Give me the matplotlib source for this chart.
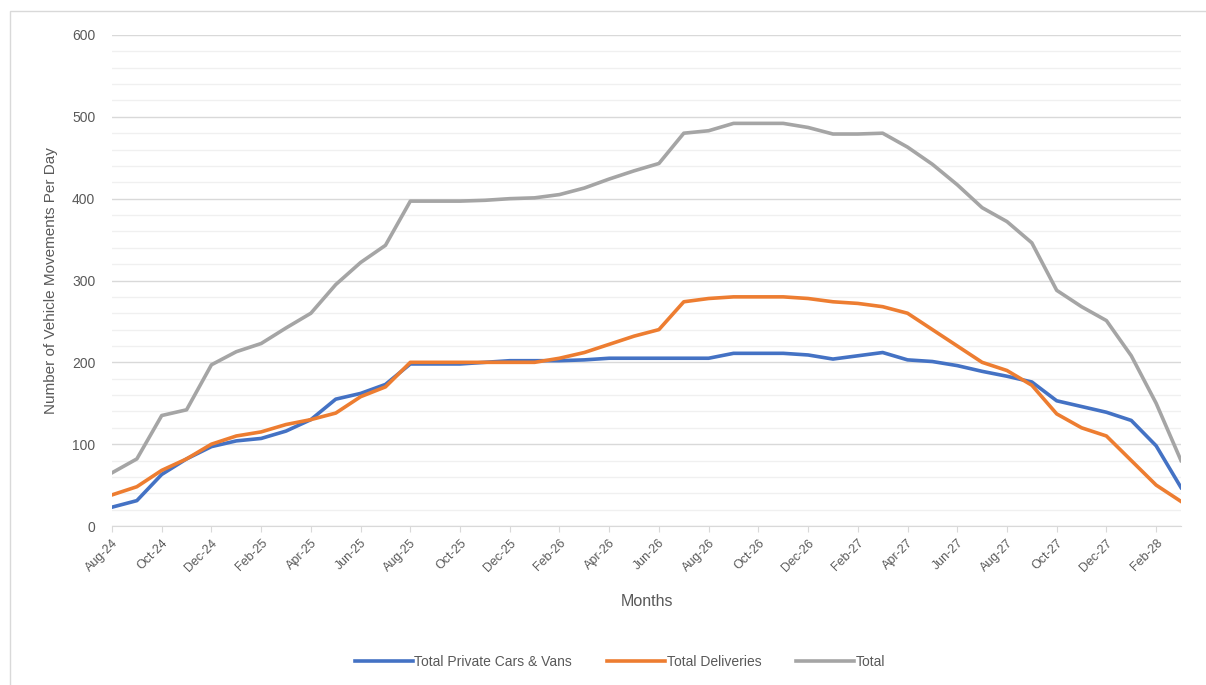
"""Vehicle movements per day, monthly profile (Excel-style line chart)."""

import matplotlib
matplotlib.use("Agg")
import matplotlib.pyplot as plt
from matplotlib.patches import Rectangle
from matplotlib.ticker import MultipleLocator

MONTHS = [
    "Aug-24", "Sep-24", "Oct-24", "Nov-24", "Dec-24",
    "Jan-25", "Feb-25", "Mar-25", "Apr-25", "May-25", "Jun-25", "Jul-25",
    "Aug-25", "Sep-25", "Oct-25", "Nov-25", "Dec-25",
    "Jan-26", "Feb-26", "Mar-26", "Apr-26", "May-26", "Jun-26", "Jul-26",
    "Aug-26", "Sep-26", "Oct-26", "Nov-26", "Dec-26",
    "Jan-27", "Feb-27", "Mar-27", "Apr-27", "May-27", "Jun-27", "Jul-27",
    "Aug-27", "Sep-27", "Oct-27", "Nov-27", "Dec-27",
    "Jan-28", "Feb-28", "Mar-28",
]

private_cars_vans = [
    23, 31, 63, 82, 97, 104, 107, 116, 130, 155, 162, 173,
    198, 198, 198, 200, 202, 202, 202, 203, 205, 205, 205, 205,
    205, 211, 211, 211, 209, 204, 208, 212, 203, 201, 196, 189,
    183, 176, 153, 146, 139, 129, 98, 47,
]

deliveries = [
    38, 48, 68, 82, 100, 110, 115, 124, 130, 138, 158, 170,
    200, 200, 200, 200, 200, 200, 205, 212, 222, 232, 240, 274,
    278, 280, 280, 280, 278, 274, 272, 268, 260, 240, 220, 200,
    190, 172, 137, 120, 110, 80, 50, 30,
]

total = [
    65, 82, 135, 142, 197, 213, 223, 242, 260, 295, 322, 343,
    397, 397, 397, 398, 400, 401, 405, 413, 424, 434, 443, 480,
    483, 492, 492, 492, 487, 479, 479, 480, 463, 442, 417, 389,
    372, 346, 288, 268, 251, 208, 150, 80,
]

SERIES = [
    ("Total Private Cars & Vans", private_cars_vans, "#4472C4"),
    ("Total Deliveries", deliveries, "#ED7D31"),
    ("Total", total, "#A5A5A5"),
]

TEXT_COLOR = "#595959"

plt.rcParams["font.family"] = ["Liberation Sans", "DejaVu Sans"]

fig = plt.figure(figsize=(12.06, 6.85), dpi=100)
ax = fig.add_axes([112 / 1206, 1 - 526 / 685, (1181 - 112) / 1206, (526 - 35) / 685])

# light chart-area border like the Excel frame
fig.patches.append(Rectangle((10 / 1206, -0.05), 1.2, 1 - 11 / 685 + 0.05,
                             transform=fig.transFigure, fill=False,
                             edgecolor="#d9d9d9", linewidth=1.0, zorder=0))

x = list(range(len(MONTHS)))
for name, values, color in SERIES:
    ax.plot(x, values, color=color, linewidth=2.6, label=name,
            solid_joinstyle="round", zorder=3)

ax.set_xlim(0, len(MONTHS) - 1)
ax.set_ylim(0, 600)
ax.yaxis.set_major_locator(MultipleLocator(100))
ax.yaxis.set_minor_locator(MultipleLocator(20))
ax.grid(which="major", axis="y", color="#d9d9d9", linewidth=1.0)
ax.grid(which="minor", axis="y", color="#f0f0f0", linewidth=1.0)
ax.set_axisbelow(True)

ax.set_xticks(x[::2])
ax.set_xticklabels(MONTHS[::2], rotation=45, ha="right", rotation_mode="anchor",
                   fontsize=9, color=TEXT_COLOR)
ax.tick_params(axis="x", which="major", length=4, color="#d9d9d9", pad=4)
ax.tick_params(axis="y", which="both", length=0, labelsize=10,
               labelcolor=TEXT_COLOR, pad=12)

for side in ["top", "right", "left"]:
    ax.spines[side].set_visible(False)
ax.spines["bottom"].set_color("#d9d9d9")

ax.set_ylabel("Number of Vehicle Movements Per Day", fontsize=11,
              color=TEXT_COLOR, labelpad=10)
ax.set_xlabel("Months", fontsize=11.5, color=TEXT_COLOR, labelpad=14)

ax.legend(loc="center", bbox_to_anchor=(620 / 1206, 1 - 662 / 685),
          bbox_transform=fig.transFigure, ncol=3, frameon=False,
          fontsize=10, labelcolor=TEXT_COLOR, handlelength=4.2,
          handletextpad=0.1, columnspacing=2.5)

fig.savefig("out.png", dpi=100)
